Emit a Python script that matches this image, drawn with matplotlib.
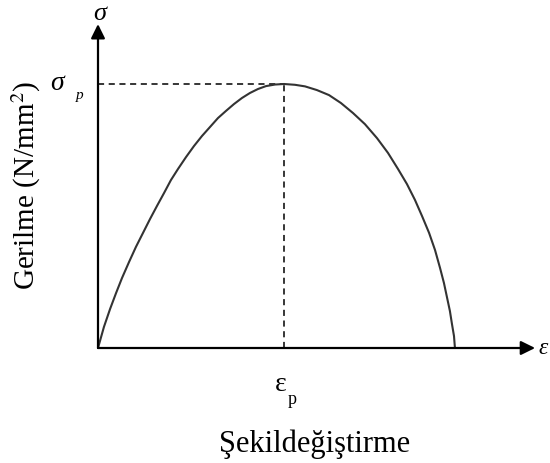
import matplotlib.pyplot as plt

# stress-strain curve, strain scaled so eps_p = 1, stress scaled so sigma_p = 1
strain = [0.0, 0.032, 0.065, 0.097, 0.129, 0.167, 0.204, 0.242, 0.280, 0.317,
          0.355, 0.392, 0.430, 0.473, 0.516, 0.559, 0.602, 0.645, 0.688, 0.731,
          0.774, 0.817, 0.860, 0.903, 0.952, 1.0,
          1.059, 1.113, 1.177, 1.242, 1.306, 1.371, 1.435, 1.500, 1.559, 1.613,
          1.661, 1.704, 1.742, 1.780, 1.812, 1.839, 1.860, 1.876, 1.892, 1.903,
          1.914, 1.919]
stress = [0.0, 0.080, 0.148, 0.208, 0.265, 0.326, 0.383, 0.436, 0.489, 0.538,
          0.587, 0.636, 0.678, 0.723, 0.765, 0.803, 0.837, 0.871, 0.898, 0.924,
          0.947, 0.966, 0.981, 0.992, 0.998, 1.0,
          0.997, 0.991, 0.977, 0.958, 0.928, 0.890, 0.848, 0.795, 0.739, 0.678,
          0.621, 0.561, 0.500, 0.436, 0.371, 0.303, 0.246, 0.193, 0.140, 0.091,
          0.045, 0.0]

eps_p = 1.0
sig_p = 1.0

x_label = "Şekildeğiştirme"
y_label = "Gerilme (N/mm$^2$)"

plt.rcParams["font.family"] = ["Liberation Serif", "DejaVu Serif"]
plt.rcParams["mathtext.fontset"] = "stix"

fig = plt.figure(figsize=(5.5, 4.63), dpi=100)
ax = fig.add_axes([0, 0, 1, 1])
ax.set_xlim(-98 / 186, 452 / 186)
ax.set_ylim(-115 / 264, 348 / 264)
ax.axis("off")

# axes with arrow heads
arrow = dict(arrowstyle="-|>,head_length=0.85,head_width=0.42", color="black",
             lw=1.6, shrinkA=0, shrinkB=0)
ax.annotate("", xy=(2.35, 0), xytext=(0, 0), arrowprops=arrow)
ax.annotate("", xy=(0, 1.227), xytext=(0, 0), arrowprops=arrow)

# peak guide lines
ax.plot([0, eps_p], [sig_p, sig_p], color="black", lw=1.1, ls=(0, (4, 3)))
ax.plot([eps_p, eps_p], [0, sig_p], color="black", lw=1.1, ls=(0, (4, 3)))

ax.plot(strain, stress, color="#333333", lw=1.5, solid_capstyle="round")

# labels
ax.text(0.01, 1.265, "σ", fontsize=19, style="italic", ha="center", va="center")
ax.text(-0.22, 1.0, "σ", fontsize=20, style="italic", ha="center", va="center")
ax.text(-0.097, 0.955, "p", fontsize=11, style="italic", ha="center", va="center")
ax.text(2.395, 0.0, "ε", fontsize=17, style="italic", ha="center", va="center")
ax.text(0.98, -0.14, "ε", fontsize=20, ha="center", va="center")
ax.text(1.045, -0.195, "p", fontsize=13, ha="center", va="center")
ax.text(1.167, -0.394, x_label, fontsize=22, ha="center", va="baseline")
ax.text(-0.387, 0.615, y_label, fontsize=21, rotation=90, ha="center", va="center")

fig.savefig("out.png", dpi=100)
